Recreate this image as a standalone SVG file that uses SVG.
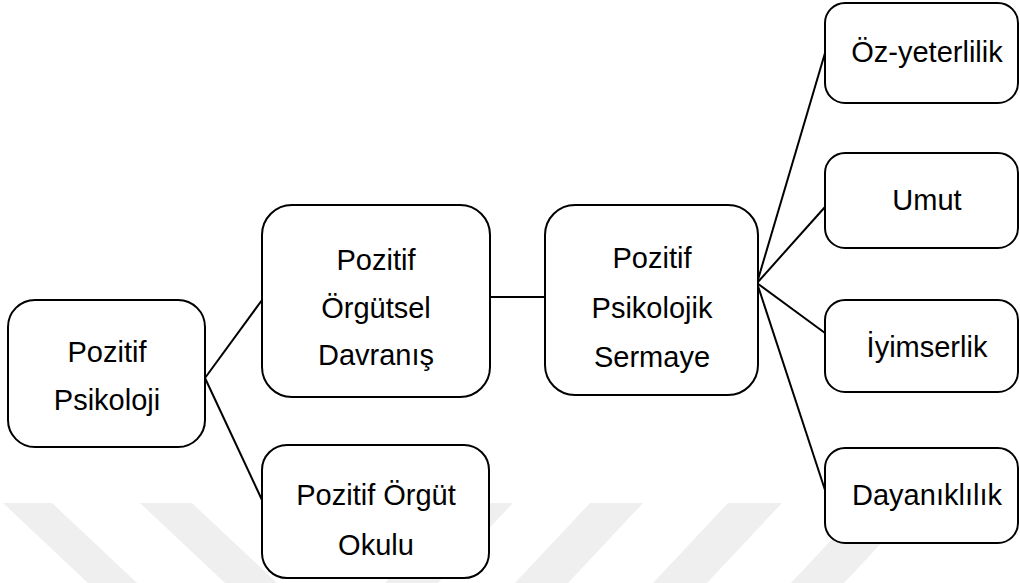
<svg xmlns="http://www.w3.org/2000/svg" width="1020" height="583" viewBox="0 0 1020 583">
<style>
.box{fill:#fff;stroke:#000;stroke-width:2}
.t{font-family:"Liberation Sans",Arial,sans-serif;font-size:29px;fill:#000;text-anchor:middle}
.wm{fill:#efefef}
.c{stroke:#000;stroke-width:2;fill:none}
</style>
<g id="watermark">
<polygon class="wm" points="3,503 52,503 137,583 88,583"/>
<polygon class="wm" points="140,503 192,503 277,583 225,583"/>
<polygon class="wm" points="460,503 513,503 438,583 385,583"/>
<polygon class="wm" points="590,503 643,503 568,583 515,583"/>
<polygon class="wm" points="728,503 782,503 707,583 653,583"/>
<polygon class="wm" points="866,503 919,503 844,583 791,583"/>
</g>
<g id="connectors">
<line class="c" x1="205" y1="378" x2="262" y2="300"/>
<line class="c" x1="205" y1="378" x2="262" y2="500"/>
<line class="c" x1="490" y1="297" x2="545" y2="297"/>
<line class="c" x1="757" y1="283" x2="825" y2="53"/>
<line class="c" x1="757" y1="283" x2="825" y2="207"/>
<line class="c" x1="757" y1="283" x2="825" y2="333"/>
<line class="c" x1="757" y1="283" x2="825" y2="490"/>
</g>
<g id="n-pozitif-psikoloji">
<rect class="box" x="8" y="300" width="197" height="147" rx="27"/>
<text class="t" x="107" y="362">Pozitif</text>
<text class="t" x="107" y="410">Psikoloji</text>
</g>
<g id="n-pod">
<rect class="box" x="262" y="205" width="228" height="192" rx="30"/>
<text class="t" x="376" y="270">Pozitif</text>
<text class="t" x="376" y="318">Örgütsel</text>
<text class="t" x="376" y="365">Davranış</text>
</g>
<g id="n-poo">
<rect class="box" x="262" y="445" width="227" height="133" rx="25"/>
<text class="t" x="376" y="505">Pozitif Örgüt</text>
<text class="t" x="376" y="555">Okulu</text>
</g>
<g id="n-pps">
<rect class="box" x="545" y="205" width="213" height="190" rx="30"/>
<text class="t" x="652" y="268">Pozitif</text>
<text class="t" x="652" y="318">Psikolojik</text>
<text class="t" x="652" y="367">Sermaye</text>
</g>
<g id="n-oz">
<rect class="box" x="825" y="3" width="193" height="100" rx="20"/>
<text class="t" x="927" y="62">Öz-yeterlilik</text>
</g>
<g id="n-umut">
<rect class="box" x="825" y="153" width="193" height="95" rx="20"/>
<text class="t" x="927" y="210">Umut</text>
</g>
<g id="n-iyimserlik">
<rect class="box" x="825" y="300" width="193" height="92" rx="20"/>
<text class="t" x="927" y="357">İyimserlik</text>
</g>
<g id="n-dayaniklilik">
<rect class="box" x="825" y="448" width="193" height="95" rx="20"/>
<text class="t" x="927" y="505">Dayanıklılık</text>
</g>
</svg>
